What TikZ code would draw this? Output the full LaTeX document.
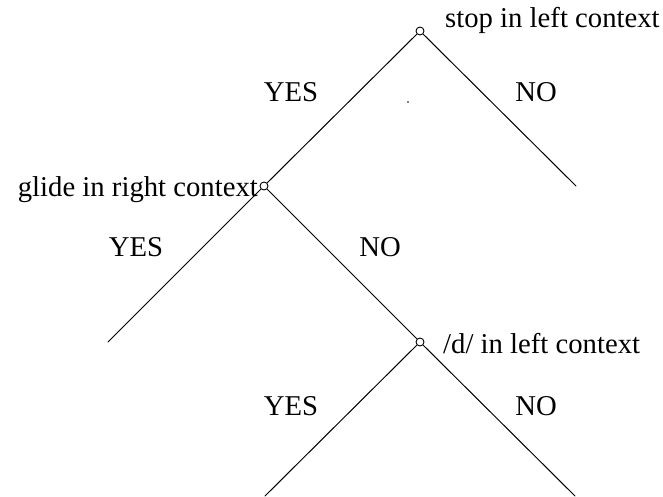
\documentclass[tikz,border=0pt]{standalone}
\usepackage{fontspec}
\setmainfont{Liberation Serif}
\begin{document}
\begin{tikzpicture}[x=1pt,y=-1pt,
  branch/.style={line width=1pt, line cap=round},
  split/.style={circle, draw, line width=0.9pt, fill=white, minimum size=8pt, inner sep=0pt},
  lbl/.style={inner sep=0pt, font=\fontsize{28.7}{34}\selectfont}]
  \useasboundingbox (0,0) rectangle (663,497);

  % decision points
  \node[split] (top) at (420,31) {};
  \node[split] (glide) at (264,186) {};
  \node[split] (dd) at (420,342) {};

  % leaf ends
  \coordinate (topNo) at (576,186);
  \coordinate (glideYes) at (108,342);
  \coordinate (ddYes) at (265,496);
  \coordinate (ddNo) at (575,496);

  % branches
  \draw[branch] (top) -- (glide);
  \draw[branch] (top) -- (topNo);
  \draw[branch] (glide) -- (glideYes);
  \draw[branch] (glide) -- (dd);
  \draw[branch] (dd) -- (ddYes);
  \draw[branch] (dd) -- (ddNo);

  % questions
  \node[lbl, anchor=base west] (qtop) at (445,28) {stop in left context};
  \node[lbl, anchor=base east] (qglide) at (258,196) {glide in right context};
  \node[lbl, anchor=base west] (qdd) at (443,353) {/d/ in left context};

  % answers
  \node[lbl] (a1) at (291,92.5) {YES};
  \node[lbl] (a2) at (536,92.5) {NO};
  \node[lbl] (a3) at (136,247.5) {YES};
  \node[lbl] (a4) at (380,247.5) {NO};
  \node[lbl] (a5) at (291,406.5) {YES};
  \node[lbl] (a6) at (536,406.5) {NO};

  % stray speck
  \fill[gray] (407,101) rectangle (409,103);
\end{tikzpicture}
\end{document}
